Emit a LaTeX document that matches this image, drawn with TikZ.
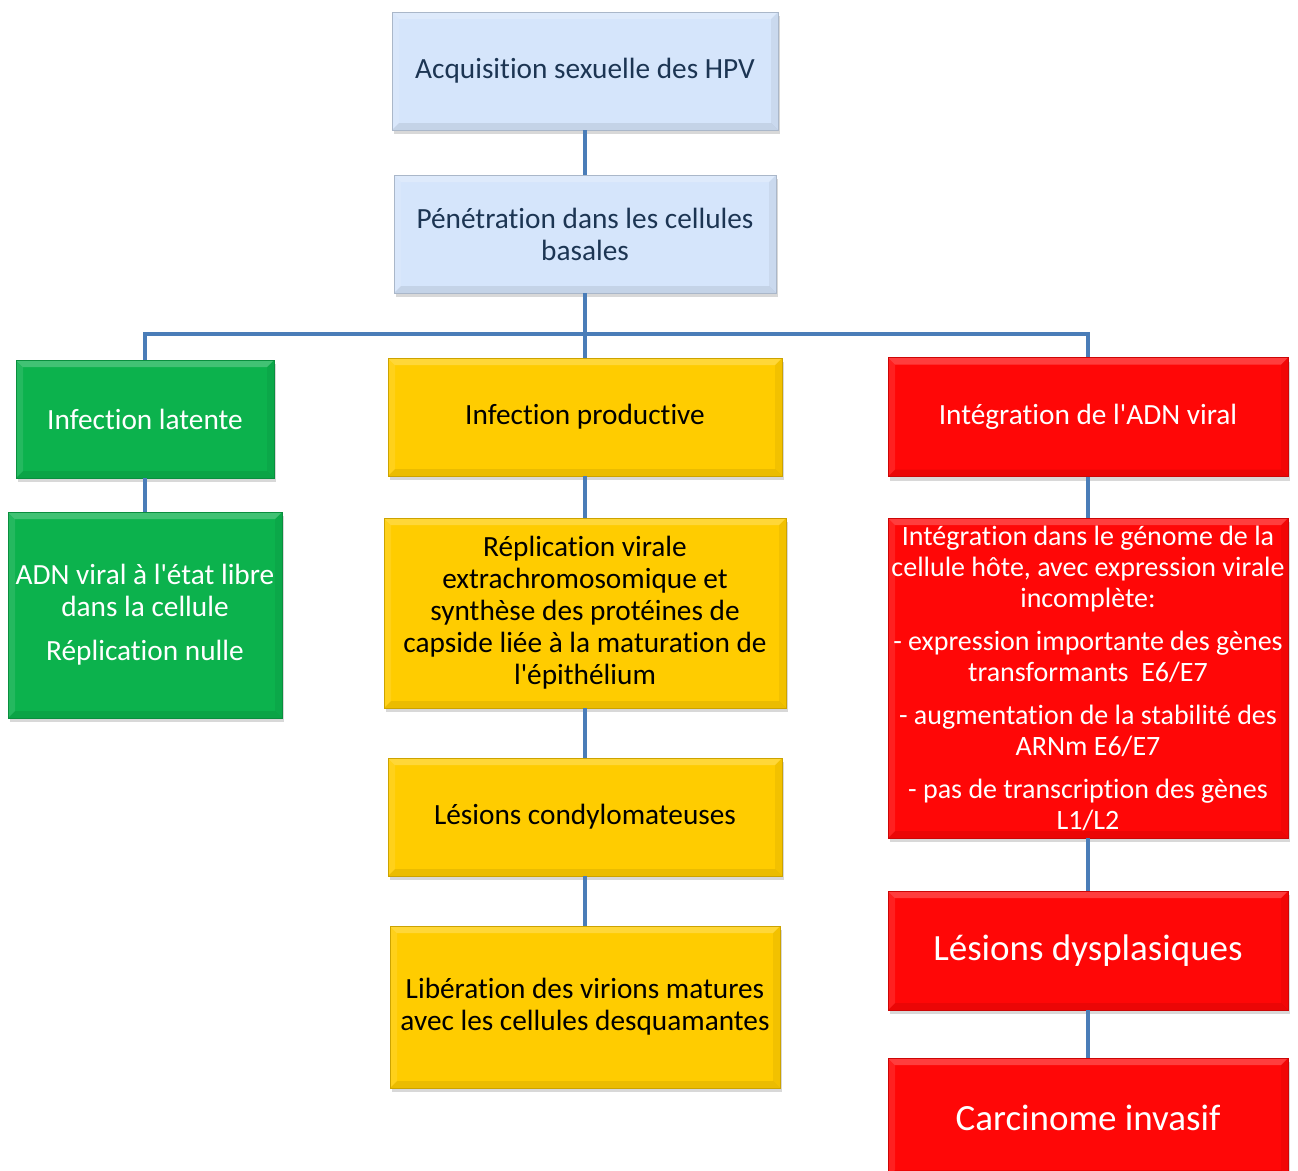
\documentclass[tikz,border=0pt]{standalone}
\usepackage{fontspec}
\setmainfont{Carlito}[Ligatures={TeXOff,NoCommon}]
\usetikzlibrary{shadows}
\definecolor{bluefill}{HTML}{D5E5FB}
\definecolor{bluetext}{HTML}{1C3553}
\definecolor{greenfill}{HTML}{0CB24D}
\definecolor{yellowfill}{HTML}{FFCC00}
\definecolor{redfill}{HTML}{FF0707}
\definecolor{conn}{HTML}{4A7DB8}
\begin{document}
\begin{tikzpicture}[x=1pt,y=-1pt,
  bevel/.style={path picture={
    \fill[white,opacity=0.22] (path picture bounding box.north west) -- (path picture bounding box.north east)
      -- ([xshift=-7pt,yshift=-7pt]path picture bounding box.north east) -- ([xshift=7pt,yshift=-7pt]path picture bounding box.north west) -- cycle;
    \fill[white,opacity=0.10] (path picture bounding box.north west) -- ([xshift=7pt,yshift=-7pt]path picture bounding box.north west)
      -- ([xshift=7pt,yshift=7pt]path picture bounding box.south west) -- (path picture bounding box.south west) -- cycle;
    \fill[black,opacity=0.08] (path picture bounding box.south west) -- (path picture bounding box.south east)
      -- ([xshift=-7pt,yshift=7pt]path picture bounding box.south east) -- ([xshift=7pt,yshift=7pt]path picture bounding box.south west) -- cycle;
    \fill[black,opacity=0.05] (path picture bounding box.north east) -- ([xshift=-7pt,yshift=-7pt]path picture bounding box.north east)
      -- ([xshift=-7pt,yshift=7pt]path picture bounding box.south east) -- (path picture bounding box.south east) -- cycle;
  }},
  box/.style={draw=#1!80!black, line width=0.6pt, fill=#1, bevel,
    drop shadow={shadow xshift=1.5pt, shadow yshift=-4pt, opacity=0.3},
    inner sep=0pt, align=center, font=\fontsize{29.3}{32}\selectfont},
  bluebox/.style={box=bluefill, text=bluetext},
  greenbox/.style={box=greenfill, text=white},
  yellowbox/.style={box=yellowfill, text=black},
  redbox/.style={box=redfill, text=white},
  link/.style={draw=conn, line width=4pt}]
\clip (0,0) rectangle (1298,1170);
\fill[white] (0,0) rectangle (1298,1170);

% top
\node[bluebox, minimum width=386pt, minimum height=118pt] (A) at (585,71) {Acquisition sexuelle des HPV};
\node[bluebox, minimum width=382pt, minimum height=118pt] (P) at (585,234) {Pénétration dans les cellules\\basales};

% second row
\node[greenbox, minimum width=258pt, minimum height=118pt] (IL) at (145,419) {Infection latente};
\node[yellowbox, minimum width=394pt, minimum height=118pt] (IP) at (585,417) {Infection productive};
\node[redbox, minimum width=400pt, minimum height=119pt] (IA) at (1088,417) {Intégration de l'ADN viral};

% left column
\node[greenbox, minimum width=274pt, minimum height=206pt] (ADN) at (145,615)
  {ADN viral à l'état libre\\dans la cellule\\[12pt]Réplication nulle};

% middle column
\node[yellowbox, minimum width=402pt, minimum height=190pt] (REP) at (585,613)
  {Réplication virale\\extrachromosomique et\\synthèse des protéines de\\capside liée à la maturation de\\l'épithélium};
\node[yellowbox, minimum width=394pt, minimum height=118pt] (LC) at (585,817) {Lésions condylomateuses};
\node[yellowbox, minimum width=390pt, minimum height=162pt] (LIB) at (585,1007)
  {Libération des virions matures\\avec les cellules desquamantes};

% right column
\node[redbox, minimum width=400pt, minimum height=320pt, font=\fontsize{28}{31}\selectfont] (INT) at (1088,678)
  {Intégration dans le génome de la\\cellule hôte, avec expression virale\\incomplète:\\[12pt]
   - expression importante des gènes\\transformants\ \ E6/E7\\[12pt]
   - augmentation de la stabilité des\\ARNm E6/E7\\[12pt]
   - pas de transcription des gènes\\L1/L2};
\node[redbox, minimum width=400pt, minimum height=119pt, font=\fontsize{37}{40}\selectfont] (LD) at (1088,950.5) {Lésions dysplasiques};
\node[redbox, minimum width=400pt, minimum height=119pt, font=\fontsize{37}{40}\selectfont] (CI) at (1088,1117.5) {Carcinome invasif};

% connectors
\coordinate (J) at (585,334);
\path[link] (A.south) -- (P.north);
\path[link] (P.south) -- (IP.north);
\path[link] (IL.north) |- (J) -| (IA.north);
\path[link] (IL.south) -- (ADN.north);
\path[link] (IP.south) -- (REP.north);
\path[link] (REP.south) -- (LC.north);
\path[link] (LC.south) -- (LIB.north);
\path[link] (IA.south) -- (INT.north);
\path[link] (INT.south) -- (LD.north);
\path[link] (LD.south) -- (CI.north);
\end{tikzpicture}
\end{document}
